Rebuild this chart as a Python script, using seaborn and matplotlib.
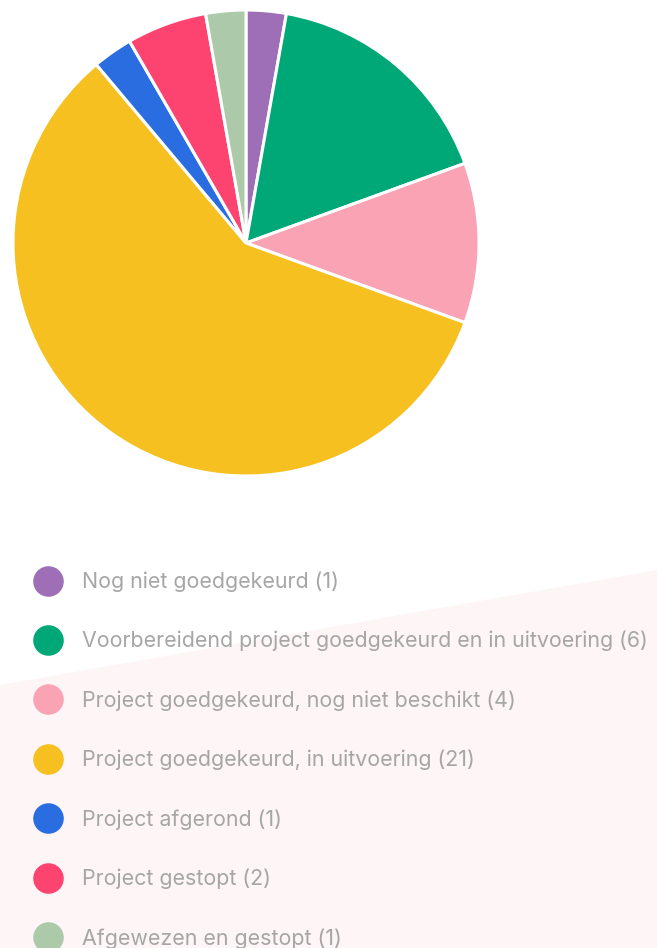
import matplotlib
matplotlib.use('Agg')
import matplotlib.pyplot as plt
from matplotlib.lines import Line2D
from matplotlib.patches import Polygon
import seaborn as sns

labels = ['Nog niet goedgekeurd', 'Voorbereidend project goedgekeurd en in uitvoering',
          'Project goedgekeurd, nog niet beschikt', 'Project goedgekeurd, in uitvoering',
          'Project afgerond', 'Project gestopt', 'Afgewezen en gestopt']
counts = [1, 6, 4, 21, 1, 2, 1]
colors = ['#9e6fb7', '#00a878', '#f9a3b4', '#f5c020', '#2a6de1', '#fd4370', '#acc9aa']

sns.set_style('white')
plt.rcParams['font.family'] = ['Inter', 'DejaVu Sans']

W, H = 657, 948
fig = plt.figure(figsize=(W / 100, H / 100), dpi=100)
fig.patch.set_facecolor('white')

# pink slanted band behind the legend
bg = Polygon([(0, 1 - 685 / H), (1, 1 - 570 / H), (1, 0), (0, 0)],
             closed=True, transform=fig.transFigure, facecolor='#fdf5f6',
             edgecolor='none', zorder=0)
fig.patches.append(bg)

ax = fig.add_axes([13 / W, 1 - 476 / H, 466 / W, 466 / H])
wedges, _ = ax.pie(counts, colors=colors, startangle=90, counterclock=False,
                   wedgeprops=dict(edgecolor='white', linewidth=2.2))
ax.set_xlim(-1, 1)
ax.set_ylim(-1, 1)
ax.set_aspect('equal')
ax.axis('off')

handles = [Line2D([], [], marker='o', linestyle='none', markersize=22,
                  markerfacecolor=c, markeredgecolor='none') for c in colors]
texts = [f'{l} ({n})' for l, n in zip(labels, counts)]
leg = fig.legend(handles, texts, loc='upper left',
                 bbox_to_anchor=(37.3 / W, 1 - 571.5 / H), frameon=False,
                 fontsize=15.4, labelcolor='#a6a6a6', labelspacing=1.82,
                 handlelength=1.0, handletextpad=1.09, borderpad=0,
                 borderaxespad=0)

fig.savefig('out.png', dpi=100, facecolor=fig.get_facecolor())
